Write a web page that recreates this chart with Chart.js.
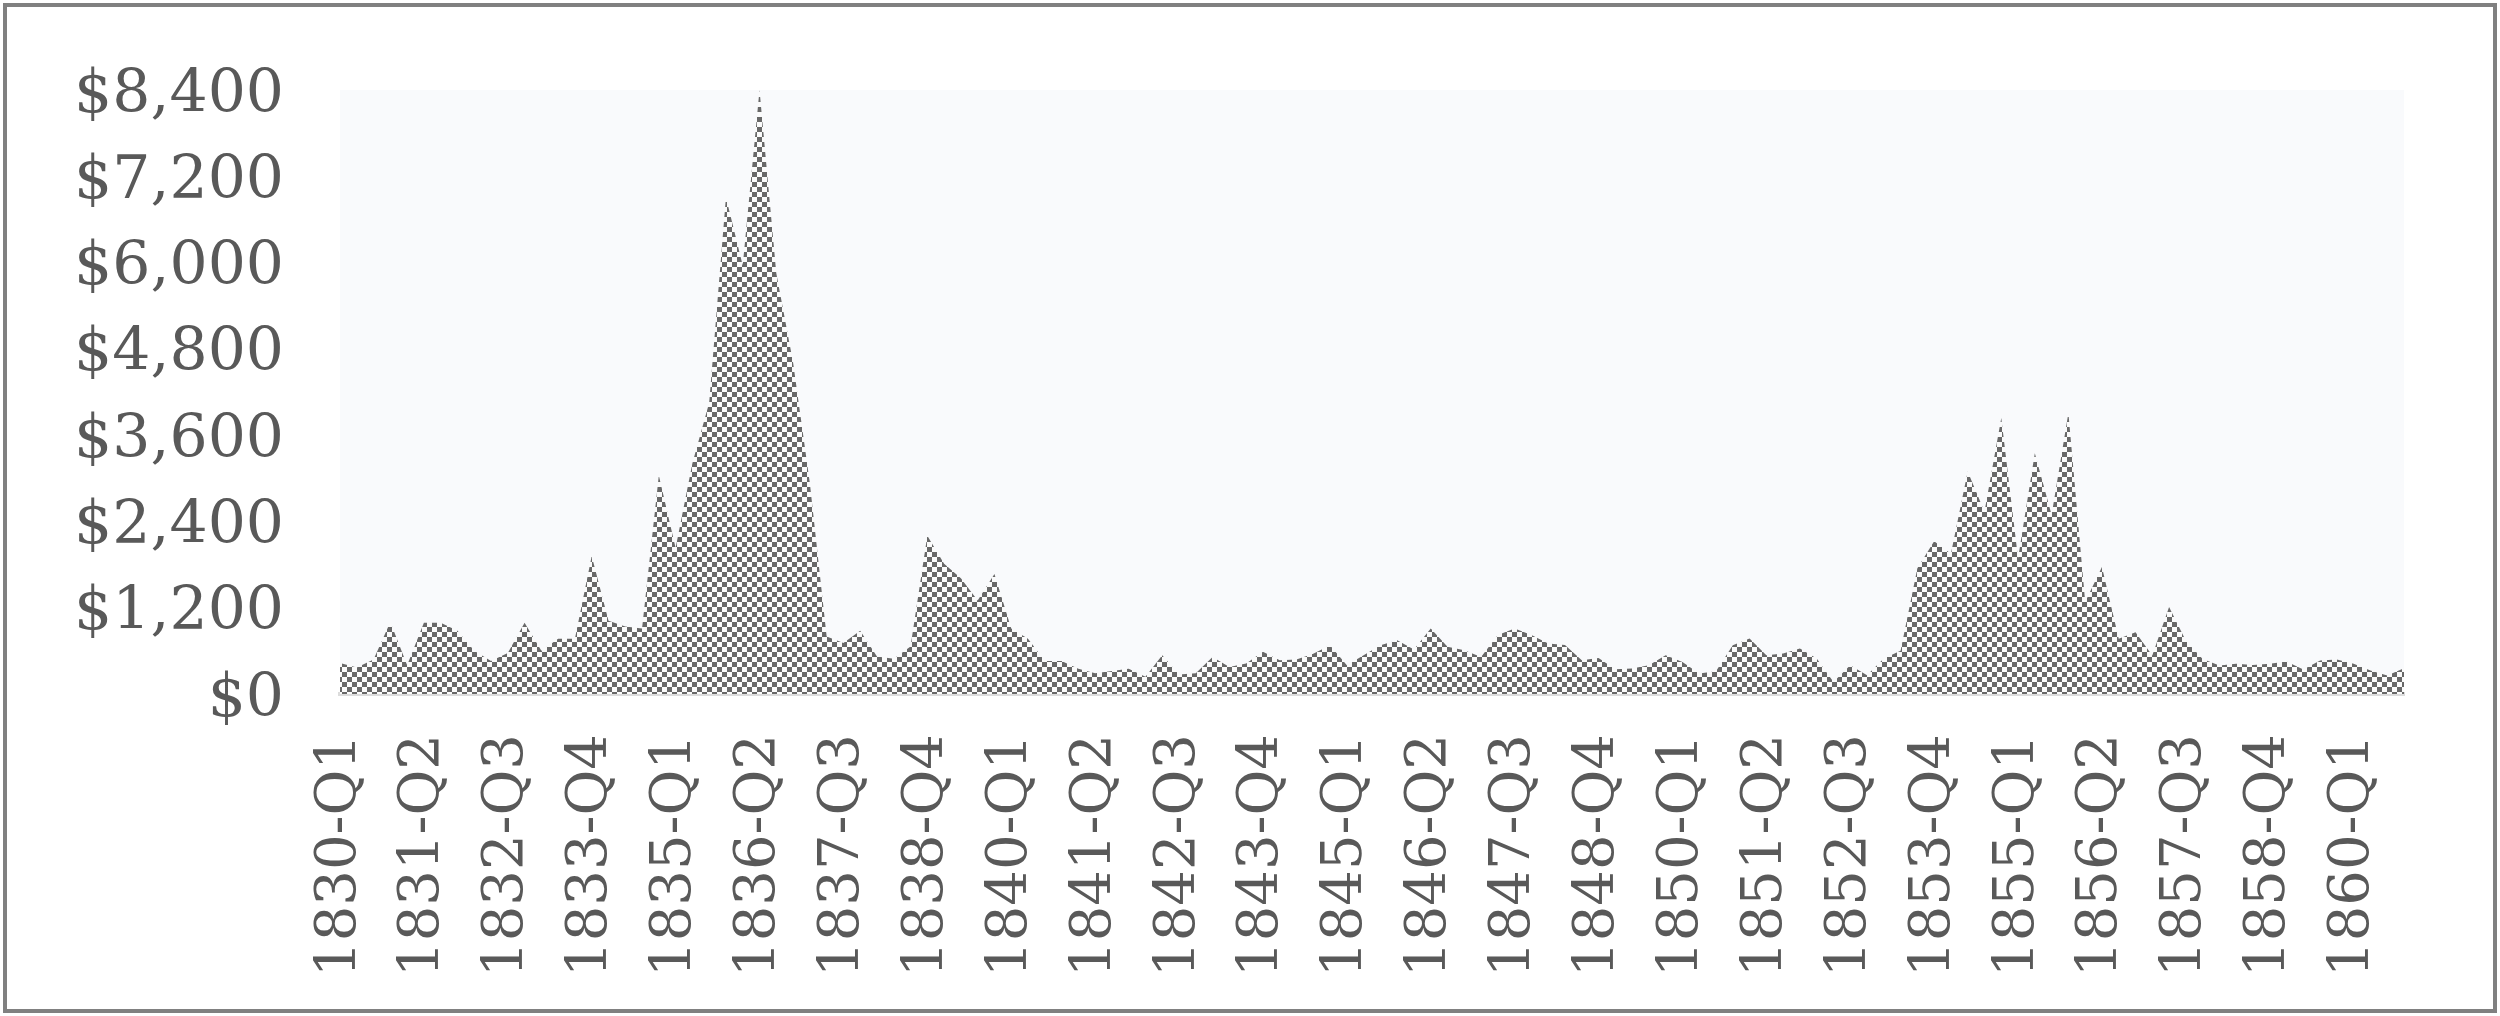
<!DOCTYPE html>
<html>
<head>
<meta charset="utf-8">
<script src="https://cdn.jsdelivr.net/npm/chart.js@4.4.1/dist/chart.umd.min.js"></script>
<style>
  html, body { margin: 0; padding: 0; background: #fff; }
  #frame {
    position: absolute; left: 3px; top: 3px;
    width: 2494px; height: 1010px;
    box-sizing: border-box;
    border: 4px solid #808080;
    background: #fff;
  }
  #wrap { position: absolute; left: 0; top: 0; width: 2486px; height: 1002px; }
</style>
</head>
<body>
<div id="frame"><div id="wrap"><canvas id="c"></canvas></div></div>
<script>
// quarterly series, 1830-Q1 .. 1860-Q4
const firstYear = 1830;
const lastYear = 1860;
const quarters = ["Q1", "Q2", "Q3", "Q4"];
const labels = [];
for (let y = firstYear; y <= lastYear; y++) {
  for (const q of quarters) labels.push(y + "-" + q);
}

const values = [
  430, 370, 480, 1000, 400, 990, 990, 880, 600, 460,
  570, 990, 600, 770, 770, 1920, 1020, 940, 910, 3040,
  2030, 3210, 4050, 6910, 5960, 8400, 5850, 4610, 2930, 800,
  710, 880, 520, 490, 660, 2200, 1810, 1610, 1300, 1670,
  910, 770, 460, 460, 350, 290, 320, 350, 240, 540,
  270, 290, 516, 377, 423, 586, 470, 480, 560, 679,
  400, 540, 679, 749, 620, 912, 656, 609, 516, 819,
  912, 819, 702, 680, 470, 500, 344, 353, 400, 540,
  446, 284, 316, 679, 772, 540, 563, 632, 493, 167,
  400, 260, 493, 600, 1750, 2125, 1950, 3093, 2535, 3837,
  1884, 3349, 2488, 3907, 1279, 1767, 767, 860, 535, 1209,
  740, 488, 395, 419, 405, 419, 451, 340, 465, 479,
  419, 326, 256, 358
];

const yMax = 8400;
const yStep = 1200;
const labelEvery = 5;

const TEXT = "#595959";
const FONT = '"DejaVu Serif", "Liberation Serif", serif';

// checkerboard fill
function checker() {
  const p = document.createElement("canvas");
  p.width = 10; p.height = 10;
  const g = p.getContext("2d");
  g.fillStyle = "#fbfbfb";
  g.fillRect(0, 0, 10, 10);
  g.fillStyle = "#686868";
  g.fillRect(0, 0, 5, 5);
  g.fillRect(5, 5, 5, 5);
  return g.createPattern(p, "repeat");
}

const plotBg = {
  id: "plotBg",
  beforeDraw(chart) {
    const { ctx, chartArea: a } = chart;
    ctx.save();
    ctx.fillStyle = "#f9fafc";
    ctx.fillRect(a.left, a.top, a.right - a.left, a.bottom - a.top);
    ctx.restore();
  }
};

const ctx = document.getElementById("c").getContext("2d");
new Chart(ctx, {
  type: "line",
  data: {
    labels: labels,
    datasets: [{
      data: values,
      backgroundColor: checker(),
      borderWidth: 0,
      pointRadius: 0,
      tension: 0,
      fill: "origin"
    }]
  },
  options: {
    responsive: true,
    maintainAspectRatio: false,
    animation: false,
    devicePixelRatio: 1,
    layout: { padding: { top: 83, right: 89, left: 0, bottom: 0 } },
    plugins: { legend: { display: false }, tooltip: { enabled: false } },
    scales: {
      x: {
        grid: { display: false },
        border: { display: true, color: "#dcdcdc", width: 4 },
        afterFit(s) { s.height = 315; s.paddingLeft = 0; s.paddingRight = 0; },
        ticks: {
          autoSkip: false,
          maxRotation: 90,
          minRotation: 90,
          padding: 32,
          color: TEXT,
          font: { family: FONT, size: 56 },
          callback(v, i) { return i % labelEvery === 0 ? labels[i] : ""; }
        }
      },
      y: {
        min: 0,
        max: yMax,
        grid: { display: false },
        border: { display: false },
        afterFit(s) { s.width = 333; s.paddingTop = 0; s.paddingBottom = 0; },
        ticks: {
          stepSize: yStep,
          padding: 48,
          labelOffset: 6,
          color: TEXT,
          font: { family: FONT, size: 60 },
          callback(v) { return "$" + v.toLocaleString("en-US"); }
        }
      }
    }
  },
  plugins: [plotBg]
});
</script>
</body>
</html>
